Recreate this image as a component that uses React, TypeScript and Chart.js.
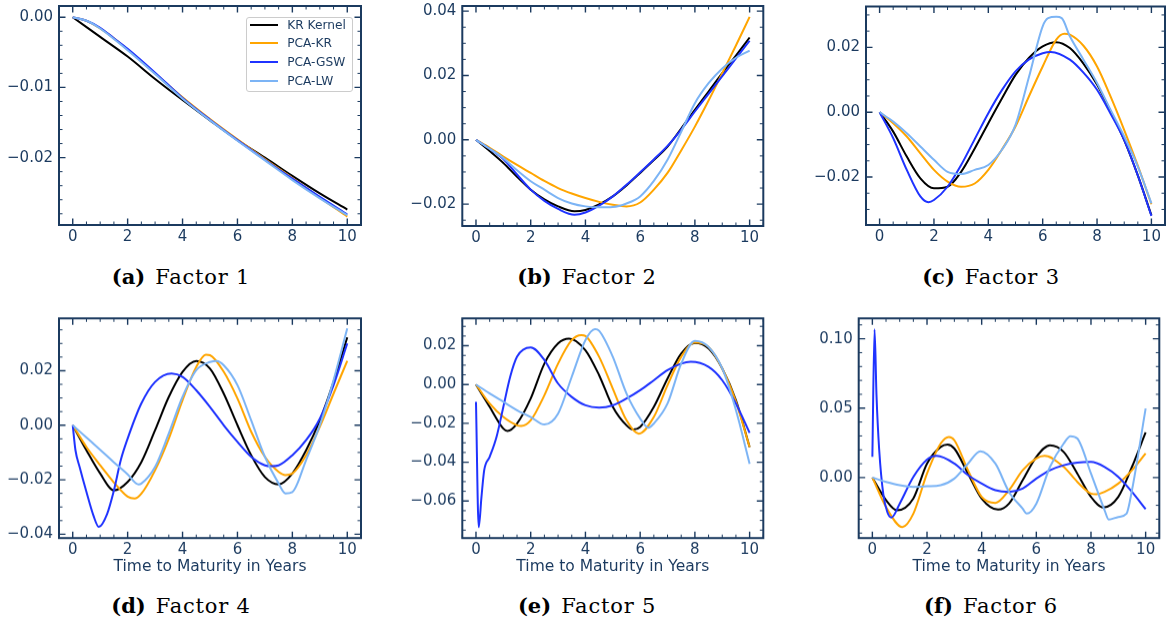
import React, { useEffect, useRef } from "react";
import { Chart, registerables } from "chart.js";

Chart.register(...registerables);

type Pt = [number, number];

const SERIES_NAMES = ["KR Kernel", "PCA-KR", "PCA-GSW", "PCA-LW"];
const SERIES_COLORS = ["#000000", "#ffa500", "#1f33ff", "#7cb4f5"];

const X_TICKS = [0, 2, 4, 6, 8, 10];
const X_LABEL = "Time to Maturity in Years";
const CAPTIONS: [string, string][] = [
  ["(a)", "Factor 1"],
  ["(b)", "Factor 2"],
  ["(c)", "Factor 3"],
  ["(d)", "Factor 4"],
  ["(e)", "Factor 5"],
  ["(f)", "Factor 6"],
];

// ---------- Factor 1 ----------
const F1_Y_TICKS = [-0.02, -0.01, 0];
const F1_KR: Pt[] = [[0, 0], [1, -0.0028], [2, -0.0056], [3, -0.0088], [4, -0.0118], [5, -0.0147], [6, -0.0175], [7, -0.02], [8, -0.0226], [9, -0.0251], [10, -0.0274]];
const F1_PCAKR: Pt[] = [[0, 0], [0.5, -0.0005], [1, -0.0016], [1.5, -0.003], [2, -0.0046], [3, -0.008], [4, -0.0114], [5, -0.0145], [6, -0.0174], [7, -0.0202], [8, -0.0229], [9, -0.0257], [10, -0.0284]];
const F1_GSW: Pt[] = [[0, 0], [0.5, -0.0005], [1, -0.0015], [1.5, -0.003], [2, -0.0045], [3, -0.0079], [4, -0.0115], [5, -0.0146], [6, -0.0175], [7, -0.0203], [8, -0.023], [9, -0.0256], [10, -0.0281]];
const F1_LW: Pt[] = [[0, 0], [0.5, -0.0005], [1, -0.0016], [1.5, -0.0031], [2, -0.0047], [3, -0.0081], [4, -0.0116], [5, -0.0147], [6, -0.0176], [7, -0.0204], [8, -0.0232], [9, -0.0258], [10, -0.0282]];

// ---------- Factor 2 ----------
const F2_Y_TICKS = [-0.02, 0, 0.02, 0.04];
const F2_KR: Pt[] = [[0, 0], [0.5, -0.0035], [1, -0.0072], [1.5, -0.0115], [2, -0.0155], [2.5, -0.0185], [3, -0.0207], [3.6, -0.0222], [4, -0.0218], [4.5, -0.0201], [5, -0.0176], [5.5, -0.0142], [6, -0.0103], [6.5, -0.0063], [7, -0.0021], [7.5, 0.0035], [8, 0.0093], [8.5, 0.015], [9, 0.0207], [9.5, 0.0262], [10, 0.0318]];
const F2_PCAKR: Pt[] = [[0, 0], [0.5, -0.0025], [1, -0.0052], [1.5, -0.0078], [2, -0.0103], [2.5, -0.0128], [3, -0.015], [3.5, -0.0167], [4, -0.0181], [4.5, -0.0193], [5, -0.0202], [5.5, -0.0207], [6, -0.0195], [6.5, -0.0155], [7, -0.0103], [7.5, -0.0033], [8, 0.0041], [8.5, 0.0122], [9, 0.0207], [9.5, 0.0293], [10, 0.0382]];
const F2_GSW: Pt[] = [[0, 0], [0.5, -0.0028], [1, -0.006], [1.5, -0.0108], [2, -0.0155], [2.5, -0.019], [3, -0.0215], [3.6, -0.0233], [4, -0.0226], [4.5, -0.0205], [5, -0.0176], [5.5, -0.014], [6, -0.0101], [6.5, -0.0061], [7, -0.0019], [7.5, 0.0032], [8, 0.0088], [8.5, 0.0143], [9, 0.0198], [9.5, 0.0253], [10, 0.0308]];
const F2_LW: Pt[] = [[0, 0], [0.5, -0.0028], [1, -0.0057], [1.5, -0.0095], [2, -0.0129], [2.5, -0.0155], [3, -0.0181], [3.5, -0.0198], [4, -0.0207], [4.5, -0.021], [5, -0.0209], [5.5, -0.0198], [6, -0.0176], [6.5, -0.0128], [7, -0.0062], [7.5, 0.0025], [8, 0.0114], [8.5, 0.0176], [9, 0.0222], [9.5, 0.0255], [10, 0.0277]];

// ---------- Factor 3 ----------
const F3_Y_TICKS = [-0.02, 0, 0.02];
const F3_KR: Pt[] = [[0, 0], [0.5, -0.006], [1, -0.0137], [1.5, -0.0204], [2, -0.0235], [2.5, -0.023], [3, -0.0184], [3.5, -0.0112], [4, -0.0034], [4.5, 0.0042], [5, 0.0115], [5.5, 0.0168], [6, 0.0203], [6.5, 0.0216], [7, 0.0198], [7.5, 0.015], [8, 0.0085], [8.5, 0.0003], [9, -0.0086], [9.5, -0.0195], [10, -0.0318]];
const F3_PCAKR: Pt[] = [[0, 0], [0.5, -0.0034], [1, -0.0075], [1.5, -0.0127], [2, -0.0178], [2.5, -0.0214], [3, -0.023], [3.5, -0.022], [4, -0.0178], [4.5, -0.0115], [5, -0.0044], [5.5, 0.005], [6, 0.0141], [6.5, 0.0224], [6.8, 0.0242], [7, 0.0239], [7.5, 0.0205], [8, 0.0141], [8.5, 0.0048], [9, -0.0055], [9.5, -0.0165], [10, -0.0284]];
const F3_GSW: Pt[] = [[0, 0], [0.5, -0.008], [1, -0.0178], [1.5, -0.026], [1.8, -0.0278], [2, -0.0271], [2.5, -0.023], [3, -0.0163], [3.5, -0.0083], [4, -0.0003], [4.5, 0.0068], [5, 0.0126], [5.5, 0.0163], [6, 0.0182], [6.3, 0.0186], [7, 0.0162], [7.5, 0.0122], [8, 0.0069], [8.5, -0.0005], [9, -0.0086], [9.5, -0.0195], [10, -0.032]];
const F3_LW: Pt[] = [[0, 0], [0.5, -0.0029], [1, -0.0065], [1.5, -0.0106], [2, -0.0147], [2.5, -0.0184], [3, -0.0191], [3.5, -0.0178], [4, -0.0163], [4.5, -0.0116], [5, -0.0039], [5.5, 0.011], [6, 0.0265], [6.2, 0.029], [6.5, 0.0294], [6.7, 0.029], [7, 0.0234], [7.5, 0.0162], [8, 0.009], [8.5, 0.0007], [9, -0.0075], [9.5, -0.0168], [10, -0.0281]];

// ---------- Factor 4 ----------
const F4_Y_TICKS = [-0.04, -0.02, 0, 0.02];
const F4_KR: Pt[] = [[0, 0], [0.5, -0.0092], [1, -0.0177], [1.5, -0.0239], [2, -0.0208], [2.5, -0.0135], [3, -0.0018], [3.5, 0.0104], [4, 0.0196], [4.5, 0.0236], [5, 0.0208], [5.5, 0.0116], [6, 0], [6.5, -0.011], [7, -0.019], [7.5, -0.0217], [8, -0.0177], [8.5, -0.0092], [9, 0.0018], [9.5, 0.0159], [10, 0.0322]];
const F4_PCAKR: Pt[] = [[0, 0], [0.5, -0.008], [1, -0.0147], [1.5, -0.021], [2, -0.0262], [2.25, -0.0269], [2.5, -0.0251], [3, -0.0165], [3.5, -0.0049], [4, 0.0092], [4.5, 0.0214], [4.85, 0.0259], [5, 0.0257], [5.5, 0.0196], [6, 0.0098], [6.5, -0.0024], [7, -0.0116], [7.5, -0.0171], [7.75, -0.0183], [8, -0.0177], [8.5, -0.011], [9, -0.0006], [9.5, 0.0116], [10, 0.0236]];
const F4_GSW: Pt[] = [[0, 0], [0.1, -0.0092], [0.25, -0.0153], [0.5, -0.0245], [0.75, -0.033], [0.95, -0.0373], [1.25, -0.0326], [1.5, -0.0239], [1.75, -0.0128], [2, -0.0049], [2.5, 0.008], [3, 0.0159], [3.6, 0.019], [4, 0.0177], [4.5, 0.0128], [5, 0.0067], [5.5, 0], [6, -0.0061], [6.5, -0.0116], [7, -0.0147], [7.25, -0.015], [7.5, -0.0147], [8, -0.011], [8.5, -0.0055], [9, 0.0024], [9.5, 0.0147], [10, 0.03]];
const F4_LW: Pt[] = [[0, 0], [0.5, -0.0045], [1, -0.009], [1.5, -0.0136], [2, -0.018], [2.4, -0.0217], [2.5, -0.0214], [3, -0.0153], [3.5, -0.003], [4, 0.0104], [4.5, 0.0202], [5, 0.0232], [5.25, 0.0236], [5.5, 0.022], [6, 0.0147], [6.5, 0.0018], [7, -0.0116], [7.5, -0.0214], [7.75, -0.025], [8, -0.0245], [8.5, -0.0128], [9, 0], [9.5, 0.0165], [10, 0.0355]];

// ---------- Factor 5 ----------
const F5_Y_TICKS = [-0.06, -0.04, -0.02, 0, 0.02];
const F5_KR: Pt[] = [[0, 0], [0.5, -0.0115], [1, -0.0227], [1.15, -0.0239], [1.5, -0.0201], [2, -0.0072], [2.5, 0.0108], [3, 0.0212], [3.4, 0.0237], [4, 0.0177], [4.5, 0.0048], [5, -0.0115], [5.5, -0.021], [5.75, -0.0232], [6, -0.0218], [6.5, -0.0115], [7, 0.0031], [7.5, 0.016], [8, 0.0215], [8.5, 0.0186], [9, 0.0083], [9.5, -0.0081], [10, -0.0322]];
const F5_PCAKR: Pt[] = [[0, 0], [0.5, -0.0098], [1, -0.0167], [1.5, -0.021], [1.65, -0.0213], [2, -0.0184], [2.5, -0.0055], [3, 0.0108], [3.5, 0.0229], [3.85, 0.0255], [4, 0.025], [4.5, 0.0143], [5, -0.0021], [5.5, -0.0184], [5.95, -0.0253], [6.5, -0.0167], [7, -0.0003], [7.5, 0.0143], [8, 0.0217], [8.5, 0.0194], [9, 0.0083], [9.5, -0.0089], [10, -0.0322]];
const F5_GSW: Pt[] = [[0, -0.0089], [0.1, -0.0735], [0.2, -0.058], [0.3, -0.0442], [0.5, -0.0373], [0.75, -0.027], [1, -0.0115], [1.25, 0.004], [1.5, 0.0143], [2, 0.0191], [2.5, 0.0126], [3, 0.0005], [3.5, -0.0064], [4, -0.0107], [4.5, -0.0119], [5, -0.0107], [5.5, -0.0072], [6, -0.0029], [6.5, 0.0022], [7, 0.0074], [7.5, 0.0108], [7.85, 0.0117], [8.5, 0.0091], [9, 0.0022], [9.5, -0.0098], [10, -0.0249]];
const F5_LW: Pt[] = [[0, 0], [0.5, -0.0046], [1, -0.0089], [1.5, -0.0132], [2, -0.0167], [2.5, -0.0206], [3, -0.015], [3.5, 0.004], [4, 0.0229], [4.35, 0.0286], [4.5, 0.0277], [5, 0.0143], [5.5, -0.0046], [6, -0.0175], [6.3, -0.0222], [6.5, -0.0201], [7, -0.0098], [7.5, 0.0108], [8, 0.0225], [8.5, 0.0194], [9, 0.0083], [9.5, -0.0132], [10, -0.0408]];

// ---------- Factor 6 ----------
const F6_Y_TICKS = [0, 0.05, 0.1];
const F6_KR: Pt[] = [[0, 0], [0.5, -0.0163], [0.9, -0.0236], [1.5, -0.015], [2, 0.0101], [2.5, 0.0221], [2.75, 0.0238], [3, 0.0209], [3.5, 0.0029], [4, -0.0151], [4.6, -0.0231], [5, -0.0188], [5.5, -0.0019], [6, 0.0149], [6.5, 0.0233], [7, 0.0185], [7.5, 0.0029], [8, -0.0139], [8.45, -0.0216], [9, -0.0139], [9.5, 0.0077], [10, 0.0325]];
const F6_PCAKR: Pt[] = [[0, 0], [0.5, -0.0212], [1.1, -0.0356], [1.5, -0.026], [2, 0.0029], [2.5, 0.0245], [2.8, 0.0293], [3, 0.0269], [3.5, 0.0053], [4, -0.0139], [4.5, -0.0183], [5, -0.0091], [5.5, 0.0053], [6, 0.0137], [6.3, 0.0156], [7, 0.0077], [7.5, -0.0031], [8, -0.0115], [8.2, -0.012], [8.5, -0.0103], [9, -0.0043], [9.5, 0.0053], [10, 0.0173]];
const F6_GSW: Pt[] = [[0, 0.0149], [0.08, 0.1067], [0.15, 0.06], [0.25, 0.02], [0.4, -0.012], [0.55, -0.025], [0.7, -0.0288], [1, -0.0188], [1.5, 0.0005], [2, 0.013], [2.35, 0.0156], [3, 0.0101], [3.5, 0.0017], [4, -0.0043], [4.5, -0.0091], [5, -0.0103], [5.5, -0.0079], [6, -0.0007], [6.5, 0.0053], [7, 0.0089], [7.5, 0.0108], [8, 0.0113], [8.5, 0.0077], [9, 0.0005], [9.5, -0.0103], [10, -0.0228]];
const F6_LW: Pt[] = [[0, 0], [0.5, -0.0031], [1, -0.0055], [1.5, -0.0067], [2, -0.0063], [2.5, -0.0055], [3, -0.0007], [3.5, 0.0101], [3.95, 0.019], [4.5, 0.0101], [5, -0.0103], [5.5, -0.0224], [5.65, -0.026], [6, -0.0188], [6.5, 0.0077], [7, 0.0245], [7.25, 0.0298], [7.5, 0.0281], [8, 0.0029], [8.5, -0.0236], [8.65, -0.0303], [9, -0.0284], [9.3, -0.026], [9.5, -0.0091], [10, 0.0498]];

const PANEL_SERIES: Pt[][][] = [
  [F1_KR, F1_PCAKR, F1_GSW, F1_LW],
  [F2_KR, F2_PCAKR, F2_GSW, F2_LW],
  [F3_KR, F3_PCAKR, F3_GSW, F3_LW],
  [F4_KR, F4_PCAKR, F4_GSW, F4_LW],
  [F5_KR, F5_PCAKR, F5_GSW, F5_LW],
  [F6_KR, F6_PCAKR, F6_GSW, F6_LW],
];
const PANEL_Y_TICKS = [F1_Y_TICKS, F2_Y_TICKS, F3_Y_TICKS, F4_Y_TICKS, F5_Y_TICKS, F6_Y_TICKS];

// ---------- layout / style ----------
const AXIS_COLOR = "#1b3a5f";
const TICK_FONT = { family: "'DejaVu Sans', sans-serif", size: 15 };
const TITLE_FONT = { family: "'DejaVu Sans', sans-serif", size: 15.5 };

type Layout = {
  x: number; y: number; w: number; h: number;
  yW: number; pT: number; pR: number; xH: number;
  yMin: number; yMax: number; yMinor: number; xTitle: boolean;
  capX: number; capY: number;
};

const LAYOUT: Layout[] = [
  { x: 0, y: 0, w: 370, h: 250, yW: 59, pT: 6, pR: 9, xH: 25, yMin: -0.0296, yMax: 0.0016, yMinor: 0.002, xTitle: false, capX: 181, capY: 265 },
  { x: 390, y: 0, w: 380, h: 250, yW: 72.3, pT: 6, pR: 6.7, xH: 24, yMin: -0.0268, yMax: 0.0416, yMinor: 0.005, xTitle: false, capX: 587, capY: 265 },
  { x: 776, y: 0, w: 390, h: 250, yW: 90, pT: 6.5, pR: 1, xH: 25, yMin: -0.0348, yMax: 0.0326, yMinor: 0.005, xTitle: false, capX: 991, capY: 265 },
  { x: 0, y: 310, w: 370, h: 265.5, yW: 59, pT: 8.3, pR: 9, xH: 37.8, yMin: -0.0414, yMax: 0.0392, yMinor: 0.005, xTitle: true, capX: 181, capY: 594 },
  { x: 390, y: 310, w: 380, h: 265.5, yW: 72.3, pT: 8.3, pR: 6.7, xH: 37.8, yMin: -0.0791, yMax: 0.0341, yMinor: 0.005, xTitle: true, capX: 587, capY: 594 },
  { x: 776, y: 310, w: 390, h: 265.5, yW: 82.7, pT: 8.3, pR: 6.7, xH: 37.8, yMin: -0.0436, yMax: 0.1147, yMinor: 0.01, xTitle: true, capX: 991, capY: 594 },
];

const fmtY = (v: number) => {
  const r = Math.round(v * 100) / 100;
  if (Math.abs(r) < 1e-12) return "0.00";
  return (r < 0 ? "\u2212" : "") + Math.abs(r).toFixed(2);
};

const framePlugin = {
  id: "frame",
  afterDatasetsDraw(chart: any, _args: any, opts: any) {
    const { ctx, chartArea: a, scales } = chart;
    const xs = scales.x;
    const ys = scales.y;
    ctx.save();
    ctx.strokeStyle = AXIS_COLOR;
    const isMajor = (arr: number[], v: number) => arr.some((m) => Math.abs(m - v) < 1e-9);
    const drawX = (v: number, len: number, lw: number) => {
      const p = xs.getPixelForValue(v);
      if (p < a.left || p > a.right) return;
      ctx.lineWidth = lw;
      ctx.beginPath();
      ctx.moveTo(p, a.bottom);
      ctx.lineTo(p, a.bottom - len);
      ctx.moveTo(p, a.top);
      ctx.lineTo(p, a.top + len);
      ctx.stroke();
    };
    const drawY = (v: number, len: number, lw: number) => {
      const p = ys.getPixelForValue(v);
      if (p < a.top || p > a.bottom) return;
      ctx.lineWidth = lw;
      ctx.beginPath();
      ctx.moveTo(a.left, p);
      ctx.lineTo(a.left + len, p);
      ctx.moveTo(a.right, p);
      ctx.lineTo(a.right - len, p);
      ctx.stroke();
    };
    const xMajor: number[] = opts.xMajor;
    const yMajor: number[] = opts.yMajor;
    for (let k = Math.ceil(xs.min / opts.xMinor); k * opts.xMinor <= xs.max; k++) {
      const v = k * opts.xMinor;
      if (!isMajor(xMajor, v)) drawX(v, 3.5, 1);
    }
    for (let k = Math.ceil(ys.min / opts.yMinor); k * opts.yMinor <= ys.max; k++) {
      const v = k * opts.yMinor;
      if (!isMajor(yMajor, v)) drawY(v, 3.5, 1);
    }
    xMajor.forEach((v) => drawX(v, 6.5, 1.4));
    yMajor.forEach((v) => drawY(v, 6.5, 1.4));
    ctx.lineWidth = 2;
    ctx.strokeRect(a.left, a.top, a.right - a.left, a.bottom - a.top);
    ctx.restore();
  },
};

function Panel({ idx }: { idx: number }) {
  const ref = useRef<HTMLCanvasElement | null>(null);
  const L = LAYOUT[idx];
  useEffect(() => {
    if (!ref.current) return;
    const series = PANEL_SERIES[idx];
    const yTicks = PANEL_Y_TICKS[idx];
    const chart = new Chart(ref.current, {
      type: "line",
      data: {
        datasets: series.map((pts, i) => ({
          label: SERIES_NAMES[i],
          data: pts.map(([x, y]) => ({ x, y })),
          borderColor: SERIES_COLORS[i],
          backgroundColor: SERIES_COLORS[i],
          borderWidth: 2,
          pointRadius: 0,
          fill: false,
          cubicInterpolationMode: "monotone" as const,
          order: 3 - i,
        })),
      },
      options: {
        responsive: false,
        animation: false,
        devicePixelRatio: 1,
        layout: { padding: { top: L.pT, right: L.pR, left: 0, bottom: 0 } },
        plugins: {
          legend: { display: false },
          tooltip: { enabled: false },
          frame: { xMajor: X_TICKS, yMajor: yTicks, xMinor: 0.5, yMinor: L.yMinor },
        } as any,
        scales: {
          x: {
            type: "linear",
            min: -0.5,
            max: 10.5,
            afterBuildTicks: (s: any) => {
              s.ticks = X_TICKS.map((v) => ({ value: v }));
            },
            afterFit: (s: any) => {
              s.height = L.xH;
              s.paddingLeft = 0;
              s.paddingRight = 0;
              s.paddingTop = 0;
              s.paddingBottom = 0;
            },
            grid: { display: false, drawTicks: false },
            border: { display: false },
            ticks: {
              color: AXIS_COLOR,
              font: TICK_FONT,
              padding: 3,
              maxRotation: 0,
              autoSkip: false,
              callback: (v: any) => String(v),
            },
            title: {
              display: L.xTitle,
              text: X_LABEL,
              color: AXIS_COLOR,
              font: TITLE_FONT,
              padding: { top: 0, bottom: 0 },
            },
          },
          y: {
            type: "linear",
            min: L.yMin,
            max: L.yMax,
            afterBuildTicks: (s: any) => {
              s.ticks = yTicks.map((v) => ({ value: v }));
            },
            afterFit: (s: any) => {
              s.width = L.yW;
              s.paddingLeft = 0;
              s.paddingRight = 0;
              s.paddingTop = 0;
              s.paddingBottom = 0;
            },
            grid: { display: false, drawTicks: false },
            border: { display: false },
            ticks: {
              color: AXIS_COLOR,
              font: TICK_FONT,
              padding: 6,
              autoSkip: false,
              callback: (v: any) => fmtY(Number(v)),
            },
          },
        },
      } as any,
      plugins: [framePlugin as any],
    });
    return () => chart.destroy();
  }, [idx]);
  return (
    <canvas
      ref={ref}
      width={L.w}
      height={L.h}
      style={{ position: "absolute", left: L.x, top: L.y, width: L.w, height: L.h }}
    />
  );
}

function Caption({ idx }: { idx: number }) {
  const L = LAYOUT[idx];
  const [tag, text] = CAPTIONS[idx];
  return (
    <div
      style={{
        position: "absolute",
        left: L.capX - 150,
        top: L.capY,
        width: 300,
        height: 24,
        lineHeight: "24px",
        textAlign: "center",
        fontFamily: "'DejaVu Serif', serif",
        fontSize: 21,
        color: "#000",
        whiteSpace: "nowrap",
      }}
    >
      <span style={{ fontWeight: "bold" }}>{tag}</span>
      <span style={{ marginLeft: 10, letterSpacing: 0.8 }}>{text}</span>
    </div>
  );
}

function Legend() {
  return (
    <div
      style={{
        position: "absolute",
        left: 245.7,
        top: 17.3,
        width: 105,
        height: 72.4,
        border: "1px solid #cccccc",
        borderRadius: 3,
        background: "rgba(255,255,255,0.85)",
        boxSizing: "content-box",
      }}
    >
      {SERIES_NAMES.map((name, i) => (
        <div
          key={name}
          style={{
            position: "absolute",
            left: 0,
            top: 6.5 + i * 18.6 - 9,
            height: 18,
            width: 105,
          }}
        >
          <div
            style={{
              position: "absolute",
              left: 3.6,
              top: 8,
              width: 27.4,
              height: 2,
              background: SERIES_COLORS[i],
            }}
          />
          <div
            style={{
              position: "absolute",
              left: 40.5,
              top: 0,
              height: 18,
              lineHeight: "18px",
              fontFamily: "'DejaVu Sans', sans-serif",
              fontSize: 12.2,
              color: AXIS_COLOR,
              whiteSpace: "nowrap",
            }}
          >
            {name}
          </div>
        </div>
      ))}
    </div>
  );
}

export default function App() {
  return (
    <div
      style={{
        position: "absolute",
        left: 0,
        top: 0,
        width: 1166,
        height: 624,
        background: "#ffffff",
        overflow: "hidden",
      }}
    >
      {LAYOUT.map((_, i) => (
        <Panel key={"p" + i} idx={i} />
      ))}
      <Legend />
      {LAYOUT.map((_, i) => (
        <Caption key={"c" + i} idx={i} />
      ))}
    </div>
  );
}
